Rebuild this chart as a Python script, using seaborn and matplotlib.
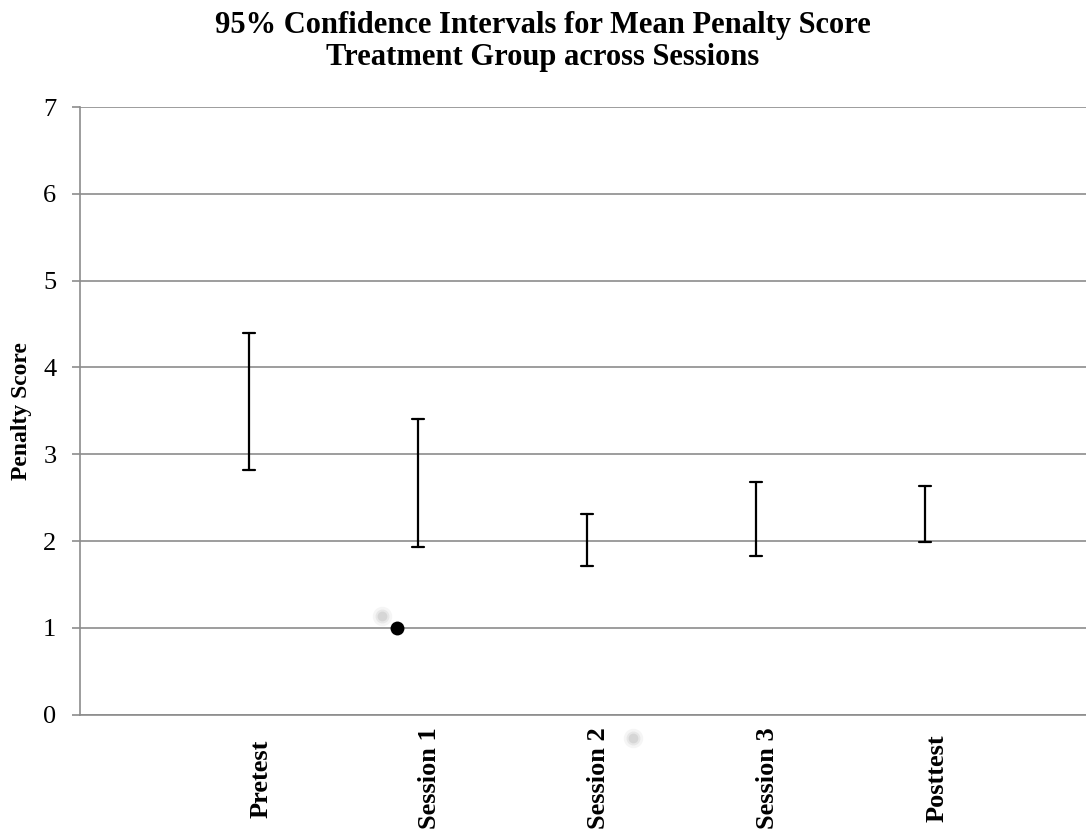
import numpy as np
import pandas as pd
import matplotlib
matplotlib.use("Agg")
import matplotlib.pyplot as plt
import seaborn as sns

# === Data ===
sessions = ["Pretest", "Session 1", "Session 2", "Session 3", "Posttest"]
ci_low = [2.82, 1.93, 1.71, 1.83, 1.99]
ci_high = [4.40, 3.41, 2.31, 2.68, 2.63]

# stray marker + its faint shadows visible in the picture
dot_x = [0.874]
dot_y = [1.0]
shadow_x = [0.787, 2.27]
shadow_y = [1.14, -0.27]

title = "95% Confidence Intervals for Mean Penalty Score\nTreatment Group across Sessions"
ylabel = "Penalty Score"
yticks = [0, 1, 2, 3, 4, 5, 6, 7]

GRID = "#8c8c8c"

sns.set_theme(style="white")
plt.rcParams["font.family"] = ["Liberation Serif", "DejaVu Serif"]
plt.rcParams["text.color"] = "black"
plt.rcParams["axes.labelcolor"] = "black"
plt.rcParams["xtick.labelcolor"] = "black"
plt.rcParams["ytick.labelcolor"] = "black"

# long form: two rows per session, the interval is min..max of them
df = pd.DataFrame({
    "session": sessions * 2,
    "score": ci_low + ci_high,
})

fig = plt.figure(figsize=(10.86, 8.34), dpi=100)
ax = fig.add_axes([80 / 1086, 1 - 714.7 / 834, 1 - 80 / 1086, (714.7 - 107) / 834])

sns.pointplot(data=df, x="session", y="score", order=sessions,
              errorbar=lambda v: (v.min(), v.max()),
              linestyle="none", markersize=0, capsize=0.07,
              color="black", err_kws={"linewidth": 1.6}, ax=ax)

# shadows (soft) then the black dot
for k, a in [(14, 0.12), (10, 0.2), (7, 0.3)]:
    ax.scatter(shadow_x, shadow_y, s=k ** 2, color="#b0b0b0", alpha=a,
               linewidths=0, clip_on=False, zorder=1)
sns.scatterplot(x=dot_x, y=dot_y, color="black", s=100, ax=ax, zorder=5,
                linewidth=0)

ax.set_xlim(-1.0, 4.95)
ax.set_ylim(0, 7)
ax.set_yticks(yticks)
ax.yaxis.grid(True, color=GRID, linewidth=1.2)
ax.set_axisbelow(True)
for side in ["top", "right"]:
    ax.spines[side].set_visible(False)
ax.spines["left"].set_color(GRID)
ax.spines["left"].set_linewidth(1.2)
ax.spines["bottom"].set_color(GRID)
ax.spines["bottom"].set_linewidth(1.2)

ax.tick_params(axis="y", length=6, width=1.2, color=GRID, pad=11,
               labelsize=19, left=True)
ax.tick_params(axis="x", length=0, pad=46)
ax.set_xticks(range(len(sessions)))
ax.set_xticklabels(sessions, rotation=90, fontsize=19, fontweight="bold",
                   ha="left", va="center", rotation_mode="default")

ax.set_xlabel("")
ax.set_ylabel(ylabel, fontsize=17, fontweight="bold", labelpad=8)
fig.text(0.5, 1 - 11 / 834, title, ha="center", va="top", fontsize=22,
         fontweight="bold", linespacing=1.15)

fig.savefig("out.png", dpi=100)
